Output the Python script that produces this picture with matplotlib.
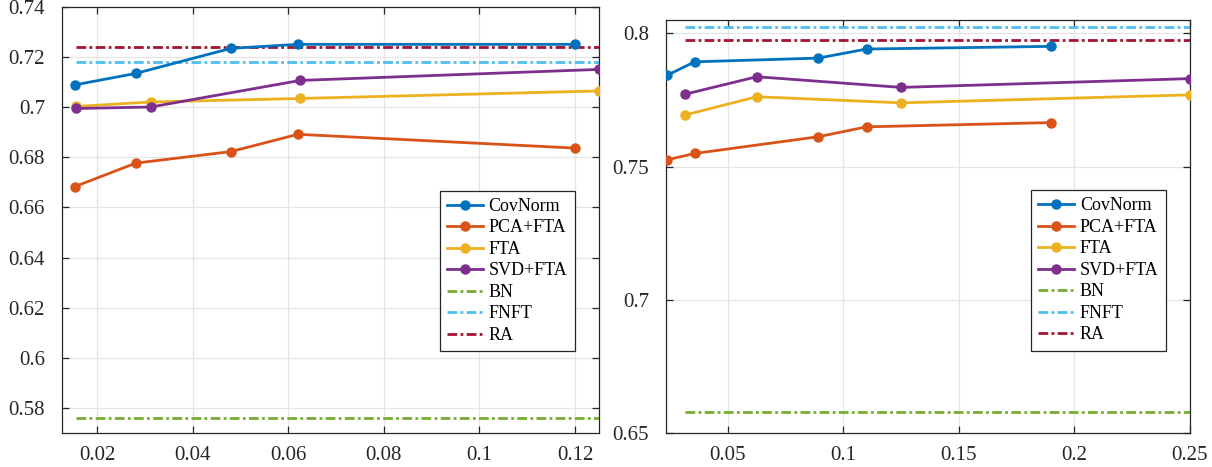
import matplotlib
matplotlib.use('Agg')
import matplotlib.pyplot as plt
from matplotlib.ticker import FormatStrFormatter

# MATLAB default line colours
c_cov = '#0072BD'
c_pca = '#D95319'
c_fta = '#EDB120'
c_svd = '#7E2F8E'
c_bn = '#77AC30'
c_fnft = '#4DBEEE'
c_ra = '#A2142F'

# ---- left panel data ----
l_cov_x = [0.0153, 0.0281, 0.0480, 0.0620, 0.1200]
l_cov_y = [0.7089, 0.7135, 0.7235, 0.7251, 0.7251]
l_pca_x = [0.0153, 0.0281, 0.0480, 0.0620, 0.1200]
l_pca_y = [0.6683, 0.6777, 0.6823, 0.6892, 0.6837]
l_fta_x = [0.015625, 0.03125, 0.0625, 0.125]
l_fta_y = [0.7003, 0.7021, 0.7035, 0.7065]
l_svd_x = [0.015625, 0.03125, 0.0625, 0.125]
l_svd_y = [0.6995, 0.7001, 0.7107, 0.7151]
l_base_x = [0.015625, 0.125]
l_bn = 0.576
l_fnft = 0.7179
l_ra = 0.7239

# ---- right panel data ----
r_cov_x = [0.0236, 0.0356, 0.0892, 0.1100, 0.1900]
r_cov_y = [0.7842, 0.7893, 0.7907, 0.7941, 0.7951]
r_pca_x = [0.0236, 0.0356, 0.0892, 0.1100, 0.1900]
r_pca_y = [0.7525, 0.7549, 0.7612, 0.7649, 0.7665]
r_fta_x = [0.03125, 0.0625, 0.125, 0.25]
r_fta_y = [0.7693, 0.7762, 0.7739, 0.7769]
r_svd_x = [0.03125, 0.0625, 0.125, 0.25]
r_svd_y = [0.7771, 0.7837, 0.7797, 0.7830]
r_base_x = [0.03125, 0.25]
r_bn = 0.658
r_fnft = 0.8025
r_ra = 0.7975

labels = ['CovNorm', 'PCA+FTA', 'FTA', 'SVD+FTA', 'BN', 'FNFT', 'RA']

plt.rcParams['font.family'] = ['Liberation Serif', 'DejaVu Serif']

fig = plt.figure(figsize=(12.12, 4.67), dpi=100)
ax1 = fig.add_axes([0.0509, 0.0728, 0.4433, 0.9122])
ax2 = fig.add_axes([0.5493, 0.0728, 0.4325, 0.8844])

lw = 2.0
ms = 6.5
dash = (3.5, 1.2, 1.0, 1.2)


def draw_panel(ax, series, base_x, bn, fnft, ra):
    for (x, y), col in zip(series, [c_cov, c_pca, c_fta, c_svd]):
        ax.plot(x, y, '-', color=col, lw=lw, marker='o', ms=ms,
                mfc=col, mec=col, zorder=3)
    for val, col in [(bn, c_bn), (fnft, c_fnft), (ra, c_ra)]:
        ax.plot(base_x, [val, val], color=col, lw=lw, dashes=dash, zorder=2)
    ax.grid(True, color='#e5e5e5', lw=0.9, zorder=0)
    ax.set_axisbelow(True)
    for s in ax.spines.values():
        s.set_color('#262626')
        s.set_linewidth(0.9)
    ax.tick_params(direction='in', length=5, width=0.9, colors='#262626',
                   top=True, right=True, labelsize=15)
    ax.tick_params(axis='y', pad=12)
    ax.tick_params(axis='x', pad=9)
    ax.yaxis.set_major_formatter(FormatStrFormatter('%g'))
    ax.xaxis.set_major_formatter(FormatStrFormatter('%g'))


draw_panel(ax1, [(l_cov_x, l_cov_y), (l_pca_x, l_pca_y),
                 (l_fta_x, l_fta_y), (l_svd_x, l_svd_y)],
           l_base_x, l_bn, l_fnft, l_ra)
ax1.set_xlim(0.0126, 0.125)
ax1.set_ylim(0.57, 0.74)
ax1.set_xticks([0.02, 0.04, 0.06, 0.08, 0.1, 0.12])
ax1.set_yticks([0.58, 0.6, 0.62, 0.64, 0.66, 0.68, 0.7, 0.72, 0.74])

draw_panel(ax2, [(r_cov_x, r_cov_y), (r_pca_x, r_pca_y),
                 (r_fta_x, r_fta_y), (r_svd_x, r_svd_y)],
           r_base_x, r_bn, r_fnft, r_ra)
ax2.set_xlim(0.0231, 0.25)
ax2.set_ylim(0.65, 0.805)
ax2.set_xticks([0.05, 0.1, 0.15, 0.2, 0.25])
ax2.set_yticks([0.65, 0.7, 0.75, 0.8])

for ax, anchor in [(ax1, (0.704, 0.569)), (ax2, (0.697, 0.588))]:
    leg = ax.legend(ax.get_lines(), labels, loc='upper left',
                    bbox_to_anchor=anchor, borderaxespad=0, fontsize=13,
                    handlelength=2.0, handletextpad=0.3, labelspacing=0.25,
                    borderpad=0.4, fancybox=False, framealpha=1,
                    edgecolor='#262626')
    leg.get_frame().set_linewidth(0.9)

fig.savefig('out.png', dpi=100)
